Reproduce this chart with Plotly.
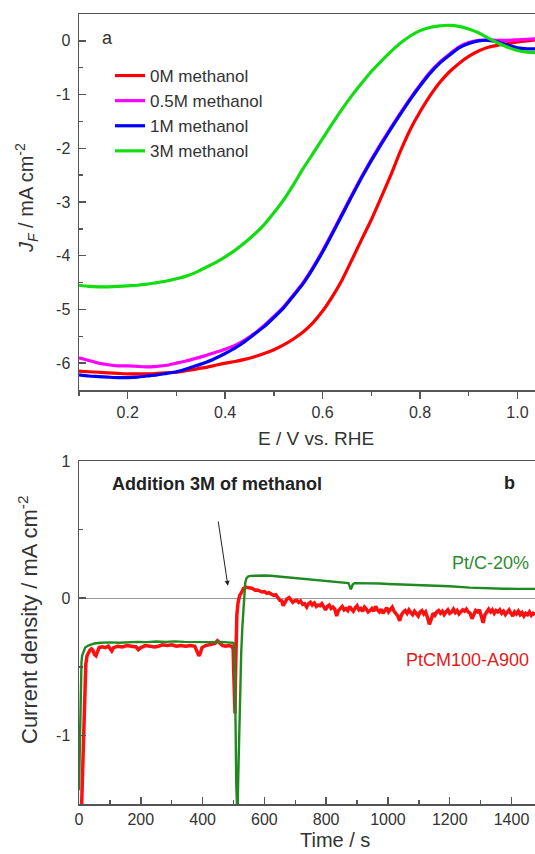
import plotly.graph_objects as go

# ---------------- Panel a : LSV curves ----------------
E = [0.10, 0.12, 0.14, 0.16, 0.18, 0.20, 0.22, 0.24, 0.26, 0.28,
     0.30, 0.32, 0.34, 0.36, 0.38, 0.40, 0.42, 0.44, 0.46, 0.48,
     0.50, 0.52, 0.54, 0.56, 0.58, 0.60, 0.62, 0.64, 0.66, 0.68,
     0.70, 0.72, 0.74, 0.76, 0.78, 0.80, 0.82, 0.84, 0.86, 0.88,
     0.90, 0.92, 0.94, 0.96, 0.98, 1.00, 1.02, 1.04]

j_0M = [-6.15, -6.16, -6.17, -6.18, -6.19, -6.20, -6.20, -6.20, -6.19, -6.18,
        -6.17, -6.14, -6.11, -6.08, -6.04, -6.00, -5.97, -5.93, -5.88, -5.82,
        -5.75, -5.66, -5.55, -5.42, -5.25, -5.03, -4.76, -4.45, -4.08, -3.70,
        -3.33, -2.92, -2.50, -2.05, -1.65, -1.32, -1.03, -0.78, -0.58, -0.42,
        -0.29, -0.19, -0.12, -0.08, -0.05, -0.02, 0.00, 0.02]

j_05M = [-5.90, -5.95, -6.00, -6.03, -6.05, -6.05, -6.06, -6.07, -6.06, -6.04,
         -6.00, -5.96, -5.91, -5.86, -5.80, -5.74, -5.67, -5.57, -5.45, -5.30,
         -5.13, -4.95, -4.73, -4.50, -4.22, -3.91, -3.57, -3.22, -2.87, -2.53,
         -2.21, -1.91, -1.62, -1.34, -1.07, -0.82, -0.59, -0.40, -0.25, -0.11,
         -0.03, 0.01, 0.02, 0.01, 0.01, 0.02, 0.03, 0.04]

j_1M = [-6.22, -6.24, -6.25, -6.26, -6.27, -6.27, -6.26, -6.24, -6.22, -6.19,
        -6.16, -6.11, -6.05, -5.99, -5.91, -5.82, -5.72, -5.60, -5.46, -5.32,
        -5.15, -4.97, -4.75, -4.52, -4.24, -3.93, -3.59, -3.24, -2.89, -2.55,
        -2.23, -1.93, -1.64, -1.36, -1.09, -0.84, -0.61, -0.42, -0.27, -0.13,
        -0.05, 0.00, 0.01, -0.02, -0.08, -0.13, -0.15, -0.15]

j_3M = [-4.55, -4.57, -4.58, -4.58, -4.57, -4.56, -4.55, -4.53, -4.50, -4.47,
        -4.43, -4.38, -4.31, -4.22, -4.13, -4.02, -3.90, -3.76, -3.60, -3.42,
        -3.20, -2.96, -2.68, -2.38, -2.10, -1.82, -1.54, -1.27, -1.02, -0.79,
        -0.57, -0.38, -0.20, -0.04, 0.09, 0.19, 0.25, 0.28, 0.29, 0.27,
        0.22, 0.15, 0.05, -0.04, -0.12, -0.18, -0.21, -0.22]

series_a_names = ["0M methanol", "0.5M methanol", "1M methanol", "3M methanol"]
series_a_colors = ["#ff0000", "#ff00ff", "#0000ff", "#11dd11"]

a_xticks = [0.2, 0.4, 0.6, 0.8, 1.0]
a_xticktext = ["0.2", "0.4", "0.6", "0.8", "1.0"]
a_yticks = [0, -1, -2, -3, -4, -5, -6]
a_yticktext = ["0", "-1", "-2", "-3", "-4", "-5", "-6"]

# ---------------- Panel b : chronoamperometry ----------------
ptc_t = [0, 2, 4, 6, 8, 10, 15, 20, 30, 40, 50, 70, 100, 130, 160, 190, 220, 250,
         280, 310, 340, 370, 400, 430, 460, 490, 500, 503, 505, 507, 509, 511, 513,
         515, 518, 521, 525, 529, 532, 535, 538, 542, 547, 555, 570, 600, 620, 660,
         700, 726, 760, 800, 834, 860, 872, 876, 879, 882, 886, 892, 920, 942, 974,
         1000, 1050, 1100, 1157, 1200, 1265, 1300, 1373, 1420, 1476]
ptc_j = [-1.40, -1.10, -0.80, -0.58, -0.47, -0.42, -0.38, -0.36, -0.345, -0.335,
         -0.33, -0.325, -0.322, -0.325, -0.32, -0.318, -0.32, -0.316, -0.318, -0.315,
         -0.318, -0.32, -0.317, -0.32, -0.318, -0.32, -0.325, -0.36, -0.55, -0.95,
         -1.35, -1.62, -1.62, -1.35, -0.98, -0.69, -0.40, -0.20, -0.09, 0.04,
         0.11, 0.145, 0.158, 0.163, 0.165, 0.165, 0.164, 0.155, 0.147, 0.141,
         0.133, 0.124, 0.116, 0.112, 0.110, 0.090, 0.065, 0.075, 0.100, 0.110,
         0.110, 0.109, 0.107, 0.104, 0.100, 0.096, 0.092, 0.087, 0.077, 0.073,
         0.069, 0.068, 0.068]

ptcm_t = [6, 9, 12, 15, 18, 22, 26, 30, 35, 40, 45, 50, 55, 60, 65, 75, 85, 95, 100,
          106, 112, 125, 140, 155, 170, 185, 192, 200, 215, 230, 245, 257, 270, 285,
          300, 315, 330, 345, 360, 375, 382, 388, 393, 398, 410, 425, 440, 448, 455,
          465, 475, 485, 495, 499, 501, 503, 505, 506, 508, 511, 515, 520, 526, 532,
          540, 548, 555, 562, 570, 578, 585, 592, 600, 608, 615, 622, 630, 637, 644,
          650, 656, 661, 667, 673, 680, 686, 692, 698, 705, 711, 717, 724, 730, 737,
          743, 749, 755, 762, 768, 774, 780, 786, 792, 798, 804, 810, 816, 822, 828,
          834, 840, 846, 852, 858, 864, 870, 876, 882, 888, 894, 900, 906, 912, 918,
          924, 930, 936, 942, 948, 954, 960, 966, 972, 978, 984, 990, 996, 1002, 1008,
          1014, 1020, 1026, 1032, 1038, 1044, 1050, 1056, 1062, 1068, 1074, 1080, 1086,
          1092, 1098, 1104, 1110, 1116, 1122, 1128, 1134, 1140, 1146, 1152, 1158, 1164,
          1170, 1176, 1182, 1188, 1194, 1200, 1206, 1212, 1218, 1224, 1230, 1236, 1242,
          1248, 1254, 1260, 1266, 1272, 1278, 1284, 1290, 1296, 1302, 1308, 1314, 1320,
          1326, 1332, 1338, 1344, 1350, 1356, 1362, 1368, 1374, 1380, 1386, 1392, 1398,
          1404, 1410, 1416, 1422, 1428, 1434, 1440, 1446, 1452, 1458, 1464, 1470, 1476]
ptcm_j = [-1.70, -1.45, -1.10, -0.85, -0.62, -0.48, -0.42, -0.40, -0.38, -0.37,
          -0.38, -0.41, -0.42, -0.39, -0.36, -0.355, -0.36, -0.35, -0.365, -0.385,
          -0.36, -0.35, -0.355, -0.345, -0.35, -0.355, -0.375, -0.36, -0.345, -0.35,
          -0.355, -0.35, -0.34, -0.345, -0.34, -0.35, -0.345, -0.35, -0.345, -0.35,
          -0.39, -0.42, -0.40, -0.36, -0.345, -0.34, -0.33, -0.31, -0.325, -0.345,
          -0.35, -0.345, -0.35, -0.37, -0.55, -0.75, -0.84, -0.60, -0.25, -0.12,
          -0.03, 0.02, 0.04, 0.07, 0.08, 0.08, 0.075, 0.07, 0.058, 0.06,
          0.052, 0.045, 0.048, 0.035, 0.04, 0.028, 0.02, 0.025, 0.0, -0.015,
          -0.02, -0.055, -0.03, -0.005, 0.005, -0.01, -0.03, -0.02, -0.015, -0.03,
          -0.02, -0.045, -0.04, -0.065, -0.04, -0.03, -0.05, -0.035, -0.06, -0.05,
          -0.055, -0.04, -0.07, -0.085, -0.06, -0.05, -0.075, -0.065, -0.08, -0.13,
          -0.09, -0.07, -0.06, -0.085, -0.075, -0.09, -0.06, -0.08, -0.095, -0.07,
          -0.055, -0.085, -0.075, -0.095, -0.065, -0.08, -0.10, -0.09, -0.075, -0.095,
          -0.06, -0.085, -0.10, -0.08, -0.11, -0.09, -0.07, -0.10, -0.085, -0.065,
          -0.095, -0.11, -0.13, -0.165, -0.12, -0.10, -0.09, -0.11, -0.085, -0.105,
          -0.12, -0.095, -0.11, -0.13, -0.10, -0.09, -0.115, -0.10, -0.14, -0.19,
          -0.155, -0.11, -0.125, -0.10, -0.09, -0.11, -0.095, -0.12, -0.10, -0.085,
          -0.11, -0.10, -0.08, -0.105, -0.09, -0.115, -0.10, -0.085, -0.095, -0.08,
          -0.10, -0.11, -0.15, -0.12, -0.09, -0.10, -0.085, -0.13, -0.18, -0.12,
          -0.095, -0.08, -0.10, -0.085, -0.11, -0.09, -0.10, -0.085, -0.11, -0.095,
          -0.12, -0.10, -0.085, -0.11, -0.13, -0.10, -0.115, -0.095, -0.12, -0.105,
          -0.13, -0.11, -0.12, -0.10, -0.125, -0.11, -0.12]

b_xticks = [0, 200, 400, 600, 800, 1000, 1200, 1400]
b_xticktext = ["0", "200", "400", "600", "800", "1000", "1200", "1400"]
b_yticks = [-1, 0, 1]
b_yticktext = ["-1", "0", "1"]

# ---------------- figure ----------------
W, H = 535, 854
FONT = "Arial, Liberation Sans, sans-serif"
AX = "#555555"
TXT = "#333333"

def px(xp):
    return xp / W

def py(yp):
    return 1 - yp / H

fig = go.Figure()

for name, color, ys in zip(series_a_names, series_a_colors, [j_0M, j_05M, j_1M, j_3M]):
    fig.add_trace(go.Scatter(x=E, y=ys, mode="lines", name=name,
                             line=dict(color=color, width=3.2, shape="spline", smoothing=0.6),
                             xaxis="x", yaxis="y"))

fig.add_trace(go.Scatter(x=ptcm_t, y=ptcm_j, mode="lines", name="PtCM100-A900",
                         line=dict(color="#ff1010", width=3.5), showlegend=False,
                         xaxis="x2", yaxis="y2"))
fig.add_trace(go.Scatter(x=ptc_t, y=ptc_j, mode="lines", name="Pt/C-20%",
                         line=dict(color="#1f8a1f", width=2.4), showlegend=False,
                         xaxis="x2", yaxis="y2"))

common = dict(showgrid=False, showline=True, linecolor=AX, linewidth=1.5,
              tickcolor=AX, tickwidth=1.5, ticklen=7, automargin=False,
              tickfont=dict(family=FONT, size=16, color=TXT))

fig.update_layout(
    template="none",
    width=W, height=H,
    margin=dict(l=0, r=0, t=0, b=0, pad=0, autoexpand=False),
    paper_bgcolor="white", plot_bgcolor="white",
    font=dict(family=FONT, color=TXT),
    hovermode=False,
    xaxis=dict(domain=[px(79), 1.0], anchor="y", range=[0.1, 1.036],
               tickvals=a_xticks, ticktext=a_xticktext, ticks="outside", mirror=True,
               minor=dict(ticks="outside", ticklen=4, dtick=0.1, tick0=0.1,
                          tickcolor=AX, tickwidth=1.5),
               zeroline=False, **common),
    yaxis=dict(domain=[py(390), py(14)], anchor="x", range=[-6.5, 0.5],
               tickvals=a_yticks, ticktext=a_yticktext, ticks="inside",
               ticklabelstandoff=4,
               minor=dict(ticks="inside", ticklen=4, dtick=0.5, tick0=0,
                          tickcolor=AX, tickwidth=1.5),
               zeroline=False, **common),
    xaxis2=dict(domain=[px(79), 1.0], anchor="y2", range=[0, 1476],
                tickvals=b_xticks, ticktext=b_xticktext, ticks="inside", mirror=True,
                minor=dict(ticks="inside", ticklen=4, dtick=100, tick0=0,
                           tickcolor=AX, tickwidth=1.5),
                zeroline=False, **common),
    yaxis2=dict(domain=[py(804), py(461)], anchor="x2", range=[-1.5, 1.0],
                tickvals=b_yticks, ticktext=b_yticktext, ticks="inside",
                ticklabelstandoff=4,
                minor=dict(ticks="inside", ticklen=4, dtick=0.5, tick0=0,
                           tickcolor=AX, tickwidth=1.5),
                zeroline=True, zerolinecolor="#999999", zerolinewidth=1, **common),
    legend=dict(x=px(110), y=py(58), xanchor="left", yanchor="top",
                bgcolor="rgba(0,0,0,0)", borderwidth=0,
                font=dict(family=FONT, size=17, color=TXT),
                tracegroupgap=0),
    showlegend=True,
)

ann = [
    dict(text="a", x=px(107), y=py(38), font=dict(size=18)),
    dict(text="E / V vs. RHE", x=px(316), y=py(438), font=dict(size=19)),
    dict(text="<i>J</i><sub><i>F</i></sub> / mA cm<sup>-2</sup>", x=px(26), y=py(198),
         font=dict(size=20), textangle=-90),
    dict(text="<b>Addition 3M of methanol</b>", x=px(110), y=py(484), xanchor="left",
         font=dict(size=18, color="#222222")),
    dict(text="<b>b</b>", x=px(509), y=py(483), font=dict(size=18, color="#222222")),
    dict(text="Pt/C-20%", x=px(531), y=py(563), xanchor="right",
         font=dict(size=18, color="#2e8b2e")),
    dict(text="PtCM100-A900", x=px(531), y=py(660), xanchor="right",
         font=dict(size=18, color="#e41a1a")),
    dict(text="Time / s", x=px(335), y=py(840), font=dict(size=20)),
    dict(text="Current density / mA cm<sup>-2</sup>", x=px(28), y=py(620),
         font=dict(size=22), textangle=-90),
]
annotations = []
for a in ann:
    d = dict(xref="paper", yref="paper", showarrow=False,
             xanchor=a.get("xanchor", "center"), yanchor="middle")
    f = dict(family=FONT, color=TXT)
    f.update(a.pop("font"))
    a.pop("xanchor", None)
    d.update(a)
    d["font"] = f
    annotations.append(d)

annotations.append(dict(x=482, y=0.09, xref="x2", yref="y2", ax=450, ay=0.57,
                        axref="x2", ayref="y2", text="", showarrow=True,
                        arrowhead=2, arrowsize=1, arrowwidth=1, arrowcolor="#222222"))
fig.update_layout(annotations=annotations)

fig.write_html("out.html",
               config={"displayModeBar": False, "staticPlot": True},
               post_script="document.body.style.margin='0px';"
                           "document.body.style.overflow='hidden';")
